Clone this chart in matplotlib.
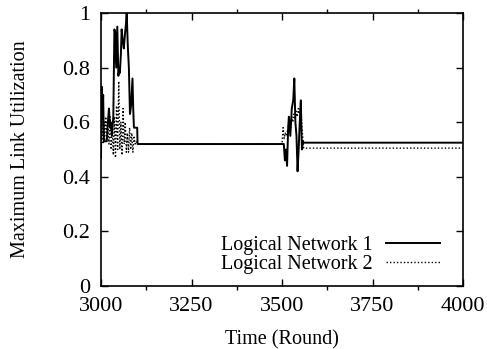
import numpy as np
import matplotlib
matplotlib.use("Agg")
import matplotlib.pyplot as plt
from matplotlib.ticker import MultipleLocator

plt.rcParams['font.family'] = ['Liberation Serif', 'DejaVu Serif']

# logical network 1 (solid)
t1 = [3000, 3001, 3002, 3004, 3006, 3008, 3012, 3016, 3019, 3022, 3025, 3027,
      3030, 3034, 3037, 3039, 3042, 3045, 3048, 3050, 3052, 3055, 3057, 3060,
      3063, 3066, 3069, 3071, 3074, 3077, 3080, 3083, 3087, 3089, 3091, 3095,
      3100, 3101, 3200, 3300, 3400, 3490, 3505, 3508, 3511, 3514, 3517, 3519,
      3523, 3527, 3531, 3534, 3537, 3540, 3543, 3546, 3549, 3552, 3555, 3558,
      3560, 3700, 3850, 4000]
u1 = [0.47, 0.60, 0.73, 0.62, 0.70, 0.53, 0.53, 0.53, 0.60, 0.65, 0.58, 0.60,
      0.55, 0.62, 0.94, 0.93, 0.80, 0.95, 0.77, 0.79, 0.78, 0.85, 0.94, 0.90,
      0.87, 0.92, 0.96, 1.00, 0.88, 0.80, 0.63, 0.66, 0.76, 0.65, 0.58, 0.58,
      0.58, 0.52, 0.52, 0.52, 0.52, 0.52, 0.52, 0.46, 0.50, 0.44, 0.58, 0.62,
      0.55, 0.65, 0.68, 0.76, 0.60, 0.55, 0.42, 0.50, 0.60, 0.68, 0.50, 0.53,
      0.525, 0.525, 0.525, 0.525]

# logical network 2 (dotted)
t2 = [3000, 3002, 3004, 3006, 3008, 3010, 3013, 3016, 3019, 3022, 3025, 3028,
      3031, 3034, 3037, 3040, 3043, 3046, 3049, 3052, 3055, 3058, 3061, 3064,
      3067, 3070, 3073, 3076, 3079, 3082, 3085, 3088, 3091, 3094, 3097, 3100,
      3200, 3300, 3400, 3500, 3503, 3506, 3509, 3512, 3515, 3518, 3521, 3524,
      3527, 3530, 3533, 3536, 3539, 3542, 3545, 3548, 3551, 3554, 3557, 3560,
      3700, 3850, 4000]
u2 = [0.58, 0.55, 0.62, 0.52, 0.60, 0.53, 0.62, 0.55, 0.60, 0.52, 0.62, 0.50,
      0.58, 0.48, 0.62, 0.47, 0.66, 0.50, 0.75, 0.50, 0.60, 0.48, 0.65, 0.52,
      0.60, 0.49, 0.56, 0.49, 0.58, 0.50, 0.56, 0.49, 0.55, 0.52, 0.53, 0.52,
      0.52, 0.52, 0.52, 0.52, 0.58, 0.54, 0.56, 0.55, 0.57, 0.56, 0.60, 0.58,
      0.62, 0.60, 0.63, 0.61, 0.64, 0.62, 0.65, 0.63, 0.66, 0.60, 0.55, 0.505,
      0.505, 0.505, 0.505]

yticks = [0, 0.2, 0.4, 0.6, 0.8, 1]
ylabels = ['0', '0.2', '0.4', '0.6', '0.8', '1']

fig = plt.figure(figsize=(4.87, 3.49), dpi=100)
ax = fig.add_axes([101 / 487, 1 - 286 / 349, 362 / 487, 273 / 349])

ax.plot(t1, u1, color='black', lw=1.4, label='Logical Network 1')
ax.plot(t2, u2, color='black', lw=1.0, ls=(0, (1, 1.5)), label='Logical Network 2')

ax.set_xlim(3000, 4000)
ax.xaxis.set_major_locator(MultipleLocator(250))
ax.xaxis.set_minor_locator(MultipleLocator(125))
ax.set_yticks(yticks, ylabels)
ax.set_ylim(0, 1)
ax.tick_params(direction='in', top=True, right=True, labelsize=16, pad=8)
ax.tick_params(which='major', length=5, width=1)
ax.tick_params(which='minor', length=3, width=1, top=True)
for s in ax.spines.values():
    s.set_linewidth(1.2)

ax.set_xlabel('Time (Round)', fontsize=14.5, labelpad=10)
ax.set_ylabel('Maximum Link Utilization', fontsize=14.5, labelpad=23)

ax.legend(loc='lower right', bbox_to_anchor=(0.9586, 0.0147), frameon=False,
          markerfirst=False, fontsize=14.5, handlelength=2.7,
          handletextpad=0.65, labelspacing=0.0, borderaxespad=0)

fig.savefig('out.png', dpi=100)
